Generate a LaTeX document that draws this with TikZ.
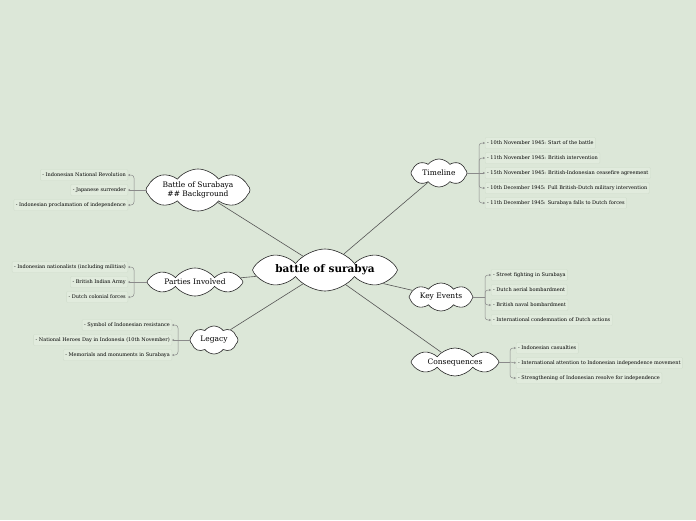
\documentclass[tikz,border=0pt]{standalone}
\usepackage{fontspec}
\setmainfont{DejaVu Serif}
\usetikzlibrary{shapes.symbols,arrows.meta}
\definecolor{bg}{HTML}{DCE7D8}
\definecolor{leaffill}{HTML}{E1EBDD}
\definecolor{leafborder}{HTML}{D0DDCC}
\definecolor{linecol}{HTML}{555555}
\definecolor{brk}{HTML}{8A8A8A}
\tikzset{
  cloudbox/.style={cloud, cloud puffs=8, cloud puff arc=105, cloud ignores aspect, draw=black!85, line width=0.6pt, fill=white, inner sep=0pt, align=center, font=\fontsize{7.5}{9}\selectfont},
  leaf/.style={draw=leafborder, fill=leaffill, rounded corners=1pt, inner sep=2pt, minimum height=11pt, font=\fontsize{5}{6}\selectfont},
  conn/.style={draw=linecol, line width=0.6pt},
  brline/.style={draw=brk, line width=0.5pt, rounded corners=3pt},
  brarrow/.style={brline, -{Stealth[length=2pt,width=2pt]}},
}
\begin{document}
\begin{tikzpicture}[x=1pt,y=-1pt]
\fill[bg] (0,0) rectangle (696,520);
\useasboundingbox (0,0) rectangle (696,520);

% clouds
\node[cloudbox, minimum width=145pt, minimum height=42pt, font=\fontsize{10.5}{12}\bfseries] (c) at (325,270) {battle of surabya};
\node[cloudbox, minimum width=104pt, minimum height=42pt] (bgd) at (198,190) {Battle of Surabaya\\\#\# Background};
\node[cloudbox, minimum width=96pt, minimum height=28pt] (par) at (195,282) {Parties Involved};
\node[cloudbox, minimum width=48pt, minimum height=28pt] (leg) at (214,340) {Legacy};
\node[cloudbox, minimum width=56pt, minimum height=28pt] (tim) at (439,173) {Timeline};
\node[cloudbox, minimum width=64pt, minimum height=28pt] (key) at (441,297) {Key Events};
\node[cloudbox, minimum width=88pt, minimum height=28pt] (con) at (455,362) {Consequences};

% main connectors
\draw[conn] (c) -- (bgd);
\draw[conn] (c) -- (par);
\draw[conn] (c) -- (leg);
\draw[conn] (c) -- (tim);
\draw[conn] (c) -- (key);
\draw[conn] (c) -- (con);

% Background leaves
\node[leaf, anchor=east] (b1) at (128,175) {- Indonesian National Revolution};
\node[leaf, anchor=east] (b2) at (128,190) {- Japanese surrender};
\node[leaf, anchor=east] (b3) at (128,205) {- Indonesian proclamation of independence};
\coordinate (jb) at (134,190);
\draw[brline] (bgd.west) -- (jb);
\draw[brarrow] (jb) |- (b1.east);
\draw[brarrow] (jb) -- (b2.east);
\draw[brarrow] (jb) |- (b3.east);

% Parties leaves
\node[leaf, anchor=east] (p1) at (128,267) {- Indonesian nationalists (including militias)};
\node[leaf, anchor=east] (p2) at (128,282) {- British Indian Army};
\node[leaf, anchor=east] (p3) at (128,297) {- Dutch colonial forces};
\coordinate (jp) at (134,282);
\draw[brline] (par.west) -- (jp);
\draw[brarrow] (jp) |- (p1.east);
\draw[brarrow] (jp) -- (p2.east);
\draw[brarrow] (jp) |- (p3.east);

% Legacy leaves
\node[leaf, anchor=east] (l1) at (172,325) {- Symbol of Indonesian resistance};
\node[leaf, anchor=east] (l2) at (172,340) {- National Heroes Day in Indonesia (10th November)};
\node[leaf, anchor=east] (l3) at (172,355) {- Memorials and monuments in Surabaya};
\coordinate (jl) at (178,340);
\draw[brline] (leg.west) -- (jl);
\draw[brarrow] (jl) |- (l1.east);
\draw[brarrow] (jl) -- (l2.east);
\draw[brarrow] (jl) |- (l3.east);

% Timeline leaves
\node[leaf, anchor=west] (t1) at (485,143) {- 10th November 1945: Start of the battle};
\node[leaf, anchor=west] (t2) at (485,158) {- 11th November 1945: British intervention};
\node[leaf, anchor=west] (t3) at (485,173) {- 15th November 1945: British-Indonesian ceasefire agreement};
\node[leaf, anchor=west] (t4) at (485,188) {- 10th December 1945: Full British-Dutch military intervention};
\node[leaf, anchor=west] (t5) at (485,203) {- 11th December 1945: Surabaya falls to Dutch forces};
\coordinate (jt) at (479,173);
\draw[brline] (tim.east) -- (jt);
\draw[brarrow] (jt) |- (t1.west);
\draw[brarrow] (jt) |- (t2.west);
\draw[brarrow] (jt) -- (t3.west);
\draw[brarrow] (jt) |- (t4.west);
\draw[brarrow] (jt) |- (t5.west);

% Key events leaves
\node[leaf, anchor=west] (k1) at (491,275) {- Street fighting in Surabaya};
\node[leaf, anchor=west] (k2) at (491,290) {- Dutch aerial bombardment};
\node[leaf, anchor=west] (k3) at (491,305) {- British naval bombardment};
\node[leaf, anchor=west] (k4) at (491,320) {- International condemnation of Dutch actions};
\coordinate (jk) at (485,297);
\draw[brline] (key.east) -- (jk);
\draw[brarrow] (jk) |- (k1.west);
\draw[brarrow] (jk) |- (k2.west);
\draw[brarrow] (jk) |- (k3.west);
\draw[brarrow] (jk) |- (k4.west);

% Consequences leaves
\node[leaf, anchor=west] (q1) at (516,348) {- Indonesian casualties};
\node[leaf, anchor=west] (q2) at (516,363) {- International attention to Indonesian independence movement};
\node[leaf, anchor=west] (q3) at (516,378) {- Strengthening of Indonesian resolve for independence};
\coordinate (jq) at (510,362);
\draw[brline] (con.east) -- (jq);
\draw[brarrow] (jq) |- (q1.west);
\draw[brarrow] (jq) -- (q2.west);
\draw[brarrow] (jq) |- (q3.west);
\end{tikzpicture}
\end{document}
